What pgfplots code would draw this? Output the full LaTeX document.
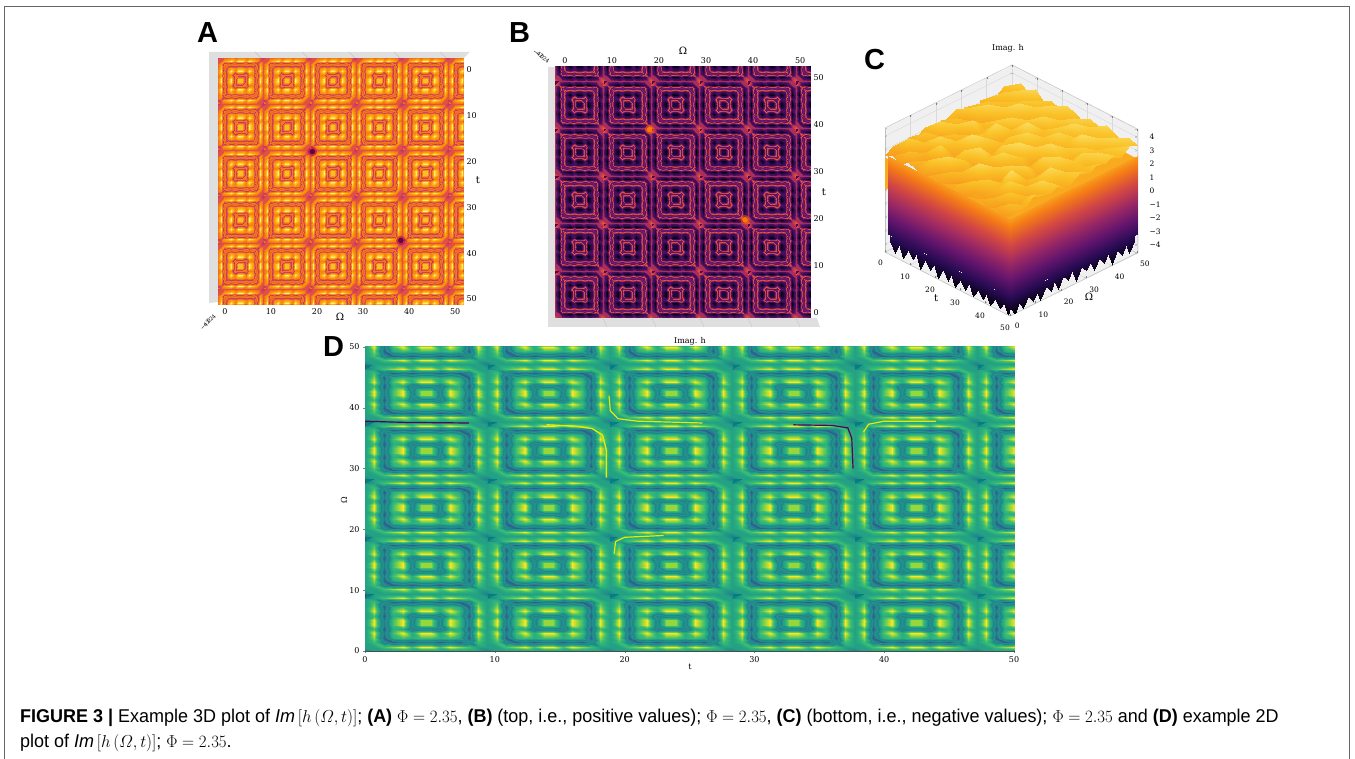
\documentclass[border=0pt]{standalone}
\usepackage{fontspec}
\usepackage{pgfplots}
\pgfplotsset{compat=1.18}
\usepackage{pgfplotstable}
\setmainfont{Liberation Sans}
\newfontfamily\dvs{DejaVu Serif}
\newcommand\sm{\dvs\fontsize{8}{9}\selectfont}
\newcommand\lb{\dvs\fontsize{10}{11}\selectfont}
\pgfplotsset{
 colormap={mA}{rgb255(0)=(50,10,100) rgb255(1)=(235,100,40) rgb255(2)=(240,115,30) rgb255(3)=(245,125,25) rgb255(4)=(190,50,110) rgb255(5)=(225,80,70) rgb255(6)=(246,130,15) rgb255(7)=(250,155,10) rgb255(8)=(252,190,40) rgb255(9)=(252,240,110)},
 colormap={mB}{rgb255(0)=(250,140,20) rgb255(1)=(115,28,110) rgb255(2)=(100,22,108) rgb255(3)=(90,20,105) rgb255(4)=(235,90,50) rgb255(5)=(170,45,90) rgb255(6)=(75,15,98) rgb255(7)=(58,12,85) rgb255(8)=(30,8,55) rgb255(9)=(5,3,15)},
 colormap={mD}{rgb255(0)=(68,1,84) rgb255(1)=(50,90,140) rgb255(2)=(38,125,142) rgb255(3)=(33,150,138) rgb255(4)=(32,130,140) rgb255(5)=(36,160,132) rgb255(6)=(40,175,125) rgb255(7)=(65,190,112) rgb255(8)=(150,215,60) rgb255(9)=(250,230,40)},
 colormap={inf}{rgb255(0)=(0,0,4) rgb255(1)=(40,11,84) rgb255(2)=(101,21,110) rgb255(3)=(159,42,99) rgb255(4)=(212,72,66) rgb255(5)=(245,125,21) rgb255(6)=(250,193,39) rgb255(7)=(252,255,164)},
 pp/.style={scale only axis,/pgf/number format/assume math mode=true,tick label style={font=\sm},major tick length=0pt,
   xtick={0,10,20,30,40,50},ytick={0,10,20,30,40,50},point meta min=0,point meta max=9},
}
\pgfplotstableread[row sep=\\,header=false]{
4\\5\\5\\5\\5\\5\\5\\5\\5\\5\\5\\5\\5\\4\\
5\\5\\7\\8\\9\\7\\9\\9\\7\\9\\8\\7\\5\\5\\
5\\7\\3\\1\\2\\1\\2\\2\\1\\2\\1\\3\\7\\5\\
5\\8\\1\\6\\7\\6\\7\\7\\6\\7\\6\\1\\8\\5\\
5\\9\\2\\7\\9\\6\\9\\9\\6\\9\\7\\2\\9\\5\\
5\\7\\1\\6\\6\\2\\3\\3\\2\\6\\6\\1\\7\\5\\
5\\9\\2\\7\\9\\3\\8\\8\\3\\9\\7\\2\\9\\5\\
5\\9\\2\\7\\9\\3\\8\\8\\3\\9\\7\\2\\9\\5\\
5\\7\\1\\6\\6\\2\\3\\3\\2\\6\\6\\1\\7\\5\\
5\\9\\2\\7\\9\\6\\9\\9\\6\\9\\7\\2\\9\\5\\
5\\8\\1\\6\\7\\6\\7\\7\\6\\7\\6\\1\\8\\5\\
5\\7\\3\\1\\2\\1\\2\\2\\1\\2\\1\\3\\7\\5\\
5\\5\\7\\8\\9\\7\\9\\9\\7\\9\\8\\7\\5\\5\\
4\\5\\5\\5\\5\\5\\5\\5\\5\\5\\5\\5\\5\\4\\
}\tile
\pgfplotstableread[row sep=\\,header=false]{
31\\33\\30\\35\\32\\30\\34\\31\\33\\36\\30\\32\\34\\31\\33\\30\\32\\
35\\30\\38\\33\\36\\41\\32\\37\\30\\34\\39\\33\\31\\36\\30\\38\\34\\
32\\42\\33\\36\\30\\35\\44\\31\\38\\33\\30\\41\\36\\32\\40\\33\\36\\
36\\31\\39\\34\\43\\32\\36\\40\\33\\45\\35\\31\\38\\43\\31\\37\\42\\
33\\40\\30\\44\\35\\31\\42\\34\\30\\37\\41\\33\\46\\34\\39\\32\\38\\
38\\32\\37\\31\\40\\36\\30\\45\\39\\32\\35\\43\\31\\37\\33\\44\\36\\
31\\43\\35\\39\\33\\46\\37\\32\\36\\44\\31\\38\\42\\35\\41\\34\\40\\
37\\33\\41\\30\\38\\32\\42\\35\\43\\33\\40\\34\\36\\30\\45\\37\\33\\
34\\39\\32\\44\\36\\40\\31\\38\\32\\46\\37\\31\\43\\39\\33\\41\\38\\
40\\31\\36\\38\\33\\45\\35\\41\\37\\34\\42\\36\\33\\44\\37\\35\\42\\
33\\42\\35\\31\\41\\34\\39\\33\\44\\38\\31\\45\\39\\34\\40\\38\\36\\
38\\34\\44\\37\\32\\43\\36\\46\\35\\40\\37\\33\\41\\36\\43\\35\\41\\
32\\40\\33\\42\\38\\35\\41\\32\\39\\36\\44\\38\\35\\42\\37\\44\\38\\
37\\35\\39\\34\\45\\37\\33\\44\\37\\42\\34\\40\\46\\36\\39\\35\\42\\
34\\41\\36\\40\\35\\42\\38\\36\\41\\35\\45\\37\\34\\43\\38\\41\\37\\
39\\36\\43\\37\\41\\36\\44\\39\\35\\43\\38\\42\\39\\37\\44\\39\\43\\
36\\42\\38\\44\\37\\40\\38\\43\\40\\37\\42\\39\\44\\40\\38\\43\\40\\
}\toptab
\newcommand\tileat[2]{\addplot[surf,shader=interp,mesh/cols=14,mesh/rows=14,point meta=explicit,forget plot]
  table[x index=0,y index=0,meta index=0,x expr={\xo+\tw*(#1+mod(\coordindex,14)/13)},y expr={\yo+\tth*(#2+floor(\coordindex/14)/13)}]{\tile};}
\newcommand\tilerow[1]{\tileat{#1}{0}\tileat{#1}{1}\tileat{#1}{2}\tileat{#1}{3}\tileat{#1}{4}\tileat{#1}{5}}
\newcommand\alltiles{\tilerow{0}\tilerow{1}\tilerow{2}\tilerow{3}\tilerow{4}\tilerow{5}}
\definecolor{basetop}{RGB}{250,170,30}
\begin{document}
\begin{tikzpicture}[x=1pt,y=1pt]
\useasboundingbox (0,0) rectangle (1355,759);
% frame
\draw[gray!80!black,line width=.8pt] (4.5,0)--(4.5,752.5)--(1349,752.5)--(1349,0);
% panel A walls
\fill[gray!25] (209,707)--(470,707)--(462,699)--(219,699)--(219,457)--(209,456)--cycle;
\foreach \x in {263,310,357,402,448}{\draw[gray!45,thin] (\x-8,707)--(\x,699);}
% panel B walls
\fill[gray!25] (548,692)--(558,692)--(558,441)--(817,441)--(820,432)--(548,432)--cycle;
\foreach \x in {603,652,700,748,796}{\draw[gray!45,thin] (\x,441)--(\x+4,432);}
% panel C panes
\fill[gray!12] (885,507)--(1013,570)--(1013,694)--(885,631)--cycle;
\fill[gray!12] (1139,506)--(1013,570)--(1013,694)--(1139,630)--cycle;
\fill[gray!12] (885,507)--(1013,570)--(1139,506)--(1010,443)--cycle;

\def\tw{10.04}\def\tth{10.13}\def\xo{-1.7}\def\yo{-2.8}
\begin{axis}[pp,at={(218pt,454pt)},anchor=south west,width=245pt,height=246pt,
 xmin=-1.5,xmax=51.7,ymin=-2.4,ymax=51.3,y dir=reverse,colormap name=mA,
 axis line style={draw=none},xticklabel pos=bottom,yticklabel pos=right,
 axis background/.style={fill=orange!90!red}]
\alltiles
\addplot[only marks,mark=*,mark size=4.5pt,color=red!50!violet,opacity=.45,forget plot] coordinates {(19,17.8)(38.2,37.2)};
\addplot[only marks,mark=*,mark size=2.5pt,color=violet!60!black,opacity=.85,forget plot] coordinates {(19,17.8)(38.2,37.2)};
\end{axis}

\def\tw{10.23}\def\tth{10.08}\def\xo{-2.1}\def\yo{-1.06}
\begin{axis}[pp,at={(555pt,441pt)},anchor=south west,width=255pt,height=251pt,
 xmin=-2.1,xmax=52.1,ymin=-1.06,ymax=52.3,colormap name=mB,
 axis line style={draw=none},xticklabel pos=top,yticklabel pos=right,
 axis background/.style={fill=violet!70!black}]
\alltiles
\addplot[only marks,mark=*,mark size=4.5pt,color=orange!80!red,opacity=.45,forget plot] coordinates {(18,39)(38.3,19.8)};
\addplot[only marks,mark=*,mark size=2.5pt,color=orange,opacity=.9,forget plot] coordinates {(18,39)(38.3,19.8)};
\end{axis}

\begin{axis}[at={(885pt,569pt)},anchor=origin,x={(2.5pt,-1.28pt)},y={(2.54pt,1.26pt)},z={(0pt,13.5pt)},
 xmin=0,xmax=50,ymin=0,ymax=50,zmin=-4.6,zmax=4.6,colormap name=inf,point meta min=-4.6,point meta max=4.6,
 /pgf/number format/assume math mode=true,tick label style={font=\dvs\fontsize{7.5}{8}\selectfont},
 xticklabel style={yshift=-4pt},yticklabel style={yshift=-3pt,xshift=3pt},zticklabel style={xshift=9pt},
 xtick={0,10,20,30,40,50},ytick={0,10,20,30,40,50},ztick={-4,-3,-2,-1,0,1,2,3,4},
 zticklabels={−4,−3,−2,−1,0,1,2,3,4},zticklabel pos=right,
 grid=major,grid style={gray!30},axis line style={gray!50},major tick length=2pt,clip=false]
\addplot3[fill=basetop,draw=none,forget plot] coordinates {(0,0,2.4)(50,0,2.4)(50,50,2.4)(0,50,2.4)} \closedcycle;
\addplot3[surf,shader=interp,mesh/cols=2,forget plot] table[row sep=\\,x index=0,y index=1,z index=2]{
1 0 2.6\\50 0 2.6\\
1 0 2.0\\50 0 2.0\\
1 0 1.4\\50 0 1.4\\
1 0 0.8\\50 0 0.8\\
1 0 0.0\\50 0 0.0\\
1 0 -1.0\\50 0 -1.0\\
1 0 -2.0\\50 0 -2.0\\
1 0 -3.2\\50 0 -3.2\\
};
\addplot3[surf,shader=interp,mesh/cols=2,forget plot] table[row sep=\\,x index=0,y index=1,z index=2]{
50 0 2.6\\50 50 2.6\\
50 0 2.0\\50 50 2.0\\
50 0 1.4\\50 50 1.4\\
50 0 0.8\\50 50 0.8\\
50 0 0.0\\50 50 0.0\\
50 0 -1.0\\50 50 -1.0\\
50 0 -2.0\\50 50 -2.0\\
50 0 -3.2\\50 50 -3.2\\
};
\addplot3[surf,shader=interp,mesh/cols=2,forget plot] table[row sep=\\,x index=0,y index=0,z index=1,y expr=0]{
2 -3.2\\2 -3.6\\ 4 -3.2\\4 -4.3\\ 5.5 -3.2\\5.5 -3.5\\ 7 -3.2\\7 -4.4\\ 9 -3.2\\9 -3.6\\ 11 -3.2\\11 -4.1\\
12.5 -3.2\\12.5 -3.5\\ 14 -3.2\\14 -4.5\\ 16 -3.2\\16 -3.7\\ 18 -3.2\\18 -4.2\\ 19.5 -3.2\\19.5 -3.6\\ 21 -3.2\\21 -4.5\\
23 -3.2\\23 -3.7\\ 25 -3.2\\25 -4.4\\ 26.5 -3.2\\26.5 -3.7\\ 28 -3.2\\28 -4.5\\ 30 -3.2\\30 -3.8\\ 32 -3.2\\32 -4.4\\
33.5 -3.2\\33.5 -3.7\\ 35 -3.2\\35 -4.5\\ 37 -3.2\\37 -3.9\\ 39 -3.2\\39 -4.4\\ 40.5 -3.2\\40.5 -3.8\\ 42 -3.2\\42 -4.5\\
44 -3.2\\44 -3.9\\ 46 -3.2\\46 -4.4\\ 47.5 -3.2\\47.5 -3.9\\ 49 -3.2\\49 -4.6\\ 50 -3.2\\50 -4.0\\
};
\addplot3[surf,shader=interp,mesh/cols=2,forget plot] table[row sep=\\,x index=0,y index=0,z index=1,x expr=50]{
0 -3.2\\0 -4.0\\ 2 -3.2\\2 -4.6\\ 3.5 -3.2\\3.5 -3.9\\ 5 -3.2\\5 -4.5\\ 7 -3.2\\7 -3.8\\ 9 -3.2\\9 -4.3\\
10.5 -3.2\\10.5 -3.8\\ 12 -3.2\\12 -4.5\\ 14 -3.2\\14 -3.7\\ 16 -3.2\\16 -4.2\\ 17.5 -3.2\\17.5 -3.6\\ 19 -3.2\\19 -4.4\\
21 -3.2\\21 -3.6\\ 23 -3.2\\23 -4.1\\ 24.5 -3.2\\24.5 -3.5\\ 26 -3.2\\26 -4.4\\ 28 -3.2\\28 -3.6\\ 30 -3.2\\30 -4.0\\
31.5 -3.2\\31.5 -3.5\\ 33 -3.2\\33 -4.3\\ 35 -3.2\\35 -3.6\\ 37 -3.2\\37 -4.1\\ 38.5 -3.2\\38.5 -3.5\\ 40 -3.2\\40 -4.5\\
42 -3.2\\42 -3.6\\ 44 -3.2\\44 -4.2\\ 45.5 -3.2\\45.5 -3.5\\ 47 -3.2\\47 -4.3\\ 49 -3.2\\49 -3.6\\
};
\addplot3[surf,shader=interp,mesh/cols=17,mesh/rows=17,forget plot]
 table[x index=0,y index=0,z index=0,x expr={mod(\coordindex,17)*50/16},y expr={floor(\coordindex/17)*50/16},z expr={\thisrowno{0}/11.8}]{\toptab};
\end{axis}

\def\tw{9.43}\def\tth{9.43}\def\xo{0}\def\yo{0}
\begin{axis}[pp,at={(365pt,108pt)},anchor=south west,width=649pt,height=304pt,
 xmin=0,xmax=50,ymin=0,ymax=50,colormap name=mD,major tick length=2pt,tick align=outside,
 axis line style={black!70,thin},xtick pos=bottom,ytick pos=left,
 axis background/.style={fill=teal}]
\alltiles
\addplot[yellow!90!green,line width=1.4pt,forget plot] coordinates {(14,37.2)(16,37)(17.5,36.6)(18.3,35.5)(18.6,33)(18.6,28.5)};
\addplot[yellow!90!green,line width=1.2pt,forget plot] coordinates {(18.8,42)(18.9,39.5)(19.5,38.2)(21,37.8)(26,37.5)};
\addplot[yellow!90!green,line width=1.2pt,forget plot] coordinates {(38.4,36)(38.8,37.3)(40,37.8)(44,37.8)};
\addplot[violet!70!black,line width=1.2pt,forget plot] coordinates {(33,37.2)(36,37.1)(37.2,36.7)(37.5,35)(37.6,30)};
\addplot[yellow!90!green,line width=1.2pt,forget plot] coordinates {(19.2,16)(19.3,18)(20,18.7)(23,19)};
\addplot[violet!70!black,line width=1.2pt,forget plot] coordinates {(0,37.8)(3,37.6)(8,37.5)};
\end{axis}
% labels
\node[font=\lb] at (340,442) {Ω};
\node[font=\lb] at (478,579) {t};
\node[font=\lb] at (683,708) {Ω};
\node[font=\lb] at (824,567) {t};
\node[font=\lb] at (1089,462) {Ω};
\node[font=\lb] at (936,461) {t};
\node[font=\sm] at (1008,711) {Imag. h};
\node[font=\sm] at (690,418) {Imag. h};
\node[font=\sm] at (690,92) {t};
\node[font=\sm,rotate=90] at (344,259) {Ω};
% scribbled z labels
\foreach \i/\s in {0/−4,1/−2,2/0,3/2,4/4}{
 \node[font=\dvs\fontsize{5.5}{6}\selectfont,rotate=45,inner sep=0] at (204+\i*2.4,433+\i*2.4) {\s};
 \node[font=\dvs\fontsize{5.5}{6}\selectfont,rotate=-35,inner sep=0] at (537+\i*2.6,706-\i*2) {\s};
}
% letters
\newcommand\pl[1]{\fontsize{29}{30}\selectfont\bfseries #1}
\node[anchor=base west,inner sep=0] at (197,716) {\pl{A}};
\node[anchor=base west,inner sep=0] at (509,716) {\pl{B}};
\node[anchor=base west,inner sep=0] at (864,689) {\pl{C}};
\node[anchor=base west,inner sep=0] at (323,402) {\pl{D}};
% caption
\node[anchor=base west,inner sep=0] at (20,36) {\scalebox{.972}[1]{\fontsize{18.5}{20}\selectfont\textbf{FIGURE 3 |} Example 3D plot of $\mathit{Im}\,[h\,(\mathnormal{\Omega},t)]$; \textbf{(A)} $\Phi=2.35$, \textbf{(B)} (top, i.e., positive values); $\Phi=2.35$, \textbf{(C)} (bottom, i.e., negative values); $\Phi=2.35$ and \textbf{(D)} example 2D}};
\node[anchor=base west,inner sep=0] at (20,11) {\scalebox{.972}[1]{\fontsize{18.5}{20}\selectfont plot of $\mathit{Im}\,[h\,(\mathnormal{\Omega},t)]$; $\Phi=2.35$.}};
\end{tikzpicture}
\end{document}
